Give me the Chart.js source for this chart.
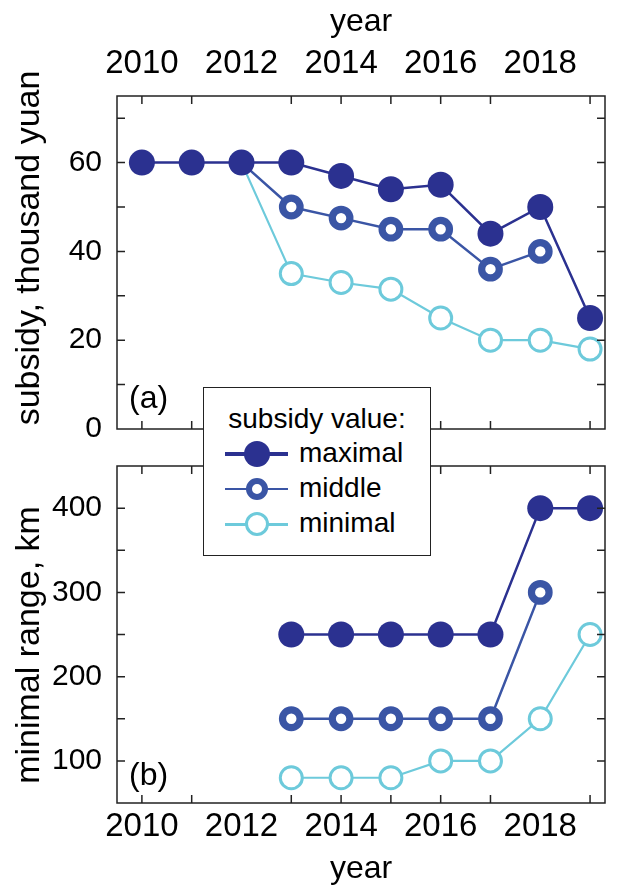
<!DOCTYPE html>
<html>
<head>
<meta charset="utf-8">
<script src="https://cdn.jsdelivr.net/npm/chart.js@4/dist/chart.umd.min.js"></script>
<style>
	body { margin: 0; background: #fff; font-family: "Liberation Sans", Arial, sans-serif; }
	#pagina { position: relative; width: 621px; height: 890px; overflow: hidden; }
	canvas { position: absolute; left: 0; }
	#graficoA { top: 0; }
	#graficoB { top: 450px; }
	.pannello { position: absolute; left: 129px; font-size: 32px; line-height: 32px; color: #000; }
	#legenda { position: absolute; left: 203px; top: 387px; width: 228px; height: 169px; box-sizing: border-box;
		border: 1.5px solid #222; background: #fff; color: #000; }
	#legenda .tit { position: absolute; left: 0; right: 0; top: 17px; text-align: center; font-size: 28px; line-height: 28px; }
	#legenda .voce { position: absolute; left: 95px; font-size: 28px; line-height: 28px; }
	#legenda .sim { position: absolute; left: 21px; width: 63px; }
	#legenda .pt { position: absolute; left: 50%; top: 50%; transform: translate(-50%, -50%); border-radius: 50%; box-sizing: border-box; }
</style>
</head>
<body>
<div id="pagina">
	<canvas id="graficoA" width="621" height="445"></canvas>
	<canvas id="graficoB" width="621" height="440"></canvas>
	<div class="pannello" style="top:381px">(a)</div>
	<div class="pannello" style="top:758px">(b)</div>
	<div id="legenda">
		<div class="tit">subsidy value:</div>
		<div class="sim" id="simMax" style="top:64px;height:3.5px"><div class="pt"></div></div>
		<div class="voce" style="top:51px">maximal</div>
		<div class="sim" id="simMid" style="top:99.5px;height:2.7px"><div class="pt"></div></div>
		<div class="voce" style="top:86px">middle</div>
		<div class="sim" id="simMin" style="top:134.5px;height:3px"><div class="pt"></div></div>
		<div class="voce" style="top:121px">minimal</div>
	</div>
</div>
<script>
// dati
const anni = [2010, 2011, 2012, 2013, 2014, 2015, 2016, 2017, 2018, 2019];
const anniEtichetta = [2010, 2012, 2014, 2016, 2018];
const anniTacche = [2010, 2011, 2013, 2014, 2015, 2016, 2017, 2019];

// (a) sussidio, mila yuan
const sussidioMax = [60, 60, 60, 60, 57, 54, 55, 44, 50, 25];
const sussidioMid = [null, null, 60, 50, 47.5, 45, 45, 36, 40, null];
const sussidioMin = [null, null, 60, 35, 33, 31.5, 25, 20, 20, 18];
const tickSussidio = [0, 20, 40, 60];
const taccheSussidio = [10, 20, 30, 40, 50, 60, 70];

// (b) autonomia minima, km
const autonomiaMax = [null, null, null, 250, 250, 250, 250, 250, 400, 400];
const autonomiaMid = [null, null, null, 150, 150, 150, 150, 150, 300, null];
const autonomiaMin = [null, null, null, 80, 80, 80, 100, 100, 150, 250];
const tickAutonomia = [100, 200, 300, 400];
const taccheAutonomia = [100, 150, 200, 250, 300, 350, 400];

const colMax = '#2b3190';
const colMid = '#3a55a5';
const colMin = '#6dcadb';
const FONT = '"Liberation Sans", Arial, sans-serif';

function punti(valori){
	const out = [];
	valori.forEach((v, i) => { if(v !== null) out.push({x: anni[i], y: v}); });
	return out;
}

function serie(max, mid, min){
	// il primo dataset viene disegnato sopra gli altri
	return [
		{ data: punti(max), borderColor: colMax, borderWidth: 2.5, backgroundColor: colMax,
			pointRadius: 13, pointBorderWidth: 0, pointBackgroundColor: colMax },
		{ data: punti(mid), borderColor: colMid, borderWidth: 2.5,
			pointRadius: 8.8, pointBorderWidth: 7.2, pointBorderColor: colMid, pointBackgroundColor: '#fff' },
		{ data: punti(min), borderColor: colMin, borderWidth: 2.2,
			pointRadius: 11, pointBorderWidth: 3, pointBorderColor: colMin, pointBackgroundColor: '#fff' }
	];
}

// cornice con tacche verso l'interno + titolo asse y (non centrato sul pannello)
const cornice = {
	id: 'cornice',
	afterDraw(chart, args, opts){
		const {ctx, chartArea: a, scales: {x, y}} = chart;
		const L = 8;
		ctx.save();
		ctx.strokeStyle = '#222';
		ctx.lineWidth = 1.5;
		ctx.strokeRect(a.left, a.top, a.right - a.left, a.bottom - a.top);
		ctx.beginPath();
		anniTacche.forEach(v => {
			const px = x.getPixelForValue(v);
			ctx.moveTo(px, a.top); ctx.lineTo(px, a.top + L);
			ctx.moveTo(px, a.bottom); ctx.lineTo(px, a.bottom - L);
		});
		opts.tacche.forEach(v => {
			const py = y.getPixelForValue(v);
			ctx.moveTo(a.left, py); ctx.lineTo(a.left + L, py);
			ctx.moveTo(a.right, py); ctx.lineTo(a.right - L, py);
		});
		ctx.stroke();

		ctx.translate(30, opts.titoloY);
		ctx.rotate(-Math.PI / 2);
		ctx.fillStyle = '#000';
		ctx.font = '34px ' + FONT;
		ctx.textAlign = 'center';
		ctx.textBaseline = 'middle';
		ctx.fillText(opts.titolo, 0, 0);
		ctx.restore();
	}
};

function creaGrafico(id, cfg){
	const ctx = document.getElementById(id).getContext('2d');
	return new Chart(ctx, {
		type: 'line',
		data: { datasets: serie(cfg.max, cfg.mid, cfg.min) },
		options: {
			responsive: false,
			animation: false,
			layout: { padding: cfg.padding },
			plugins: {
				legend: { display: false }, tooltip: { enabled: false },
				cornice: { tacche: cfg.tacche, titolo: cfg.yTitolo, titoloY: cfg.yTitoloPos }
			},
			scales: {
				x: {
					type: 'linear', position: cfg.xPos, min: 2009.5, max: 2019.3,
					grid: { display: false, drawTicks: false }, border: { display: false },
					afterBuildTicks: s => { s.ticks = anniEtichetta.map(v => ({value: v})); },
					afterFit: s => { s.height = cfg.xAltezza; s.paddingLeft = 0; s.paddingRight = 0; },
					ticks: { color: '#000', font: { family: FONT, size: 33 }, padding: cfg.xPad, maxRotation: 0, autoSkip: false,
						callback: v => String(v) },
					title: { display: true, text: 'year', color: '#000', font: { family: FONT, size: 32 }, padding: cfg.titPad }
				},
				y: {
					min: cfg.yMin, max: cfg.yMax,
					grid: { display: false, drawTicks: false }, border: { display: false },
					afterBuildTicks: s => { s.ticks = cfg.yTick.map(v => ({value: v})); },
					// niente spazio extra per le etichette agli estremi
					afterFit: s => { s.width = 117; s.paddingTop = 0; s.paddingBottom = 0; },
					ticks: { color: '#000', font: { family: FONT, size: 30 }, padding: 15 }
				}
			}
		},
		plugins: [cornice]
	});
}

function legenda(){
	const m = document.querySelector('#simMax'), d = document.querySelector('#simMid'), n = document.querySelector('#simMin');
	m.style.background = colMax; d.style.background = colMid; n.style.background = colMin;
	const pm = m.firstElementChild; pm.style.cssText += 'width:26px;height:26px;background:' + colMax;
	const pd = d.firstElementChild; pd.style.cssText += 'width:22px;height:22px;background:#fff;border:6px solid ' + colMid;
	const pn = n.firstElementChild; pn.style.cssText += 'width:24px;height:24px;background:#fff;border:3px solid ' + colMin;
}

function start(){
	creaGrafico('graficoA', {
		max: sussidioMax, mid: sussidioMid, min: sussidioMin,
		xPos: 'top', xAltezza: 96, xPad: 12, titPad: { top: 3 },
		padding: { top: 0, right: 8, bottom: 13, left: 0 },
		yMin: 0, yMax: 75, yTick: tickSussidio, tacche: taccheSussidio,
		yTitolo: 'subsidy, thousand yuan', yTitoloPos: 248
	});
	creaGrafico('graficoB', {
		max: autonomiaMax, mid: autonomiaMid, min: autonomiaMin,
		xPos: 'bottom', xAltezza: 87, xPad: 4, titPad: { bottom: 2 },
		padding: { top: 16, right: 8, bottom: 0, left: 0 },
		yMin: 50, yMax: 450, yTick: tickAutonomia, tacche: taccheAutonomia,
		yTitolo: 'minimal range, km', yTitoloPos: 195
	});
	legenda();
}

if(document.readyState === 'loading') document.addEventListener('DOMContentLoaded', start);
else start();
</script>
</body>
</html>
